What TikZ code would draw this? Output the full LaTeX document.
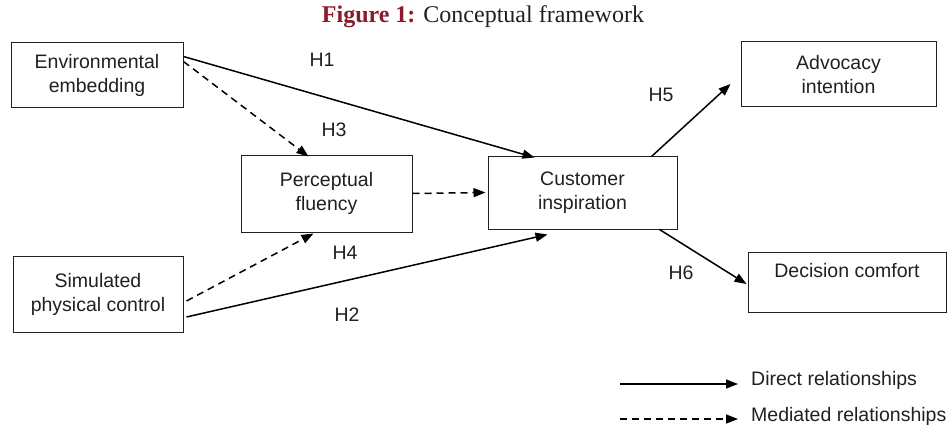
\documentclass[tikz,border=0pt]{standalone}
\usepackage{fontspec}
\setmainfont{Liberation Sans}
\newfontfamily\titlefont{Liberation Serif}
\usetikzlibrary{arrows.meta}
\definecolor{figred}{HTML}{8B1A2B}
\definecolor{ink}{HTML}{231F20}
\begin{document}
\begin{tikzpicture}[x=1pt,y=-1pt,
  box/.style={draw=ink,line width=1pt,align=center,inner sep=0pt,
    font=\fontsize{19.5}{24}\selectfont,text=ink},
  hlabel/.style={font=\fontsize{19.5}{22}\selectfont,text=ink,inner sep=0pt},
  direct/.style={draw=black,line width=1.5pt,-{Triangle[length=12pt,width=9pt]}},
  mediated/.style={direct,dash pattern=on 7pt off 5pt}]
\useasboundingbox (0,0) rectangle (952,433);

% title
\node[font=\titlefont\fontsize{24}{26}\selectfont,text=ink] (title) at (483,17)
  {\textbf{\textcolor{figred}{Figure 1:}} Conceptual framework};

% constructs
\node[box,minimum width=172pt,minimum height=65pt] (env)  at (97,75.5)  {Environmental\\embedding};
\node[box,minimum width=170pt,minimum height=76pt] (sim)  at (98,294.5) {Simulated\\physical control};
\node[box,minimum width=171pt,minimum height=77pt] (perc) at (326.5,193.5) {Perceptual\\fluency};
\node[box,minimum width=189pt,minimum height=73pt] (cust) at (582.5,192.5) {Customer\\inspiration};
\node[box,minimum width=195pt,minimum height=65pt] (adv)  at (838.5,74.5) {Advocacy\\intention};
\node[box,minimum width=198pt,minimum height=60pt] (dec)  at (847,282) {Decision comfort\\\mbox{}};

% hypothesised paths
\draw[direct]   ([yshift=-14pt]env.north east) -- ([xshift=-48pt,yshift=-2pt]cust.north);
\draw[mediated] ([yshift=-19pt]env.north east) -- ([xshift=-18pt,yshift=-2pt]perc.north);
\draw[mediated] (perc.east) -- ([xshift=-2pt]cust.west);
\draw[mediated] ([xshift=3pt,yshift=-45pt]sim.north east) -- ([xshift=-13pt,yshift=-1pt]perc.south);
\draw[direct]   ([xshift=3pt,yshift=-61pt]sim.north east) -- ([xshift=-35pt,yshift=-5pt]cust.south);
\draw[direct]   ([xshift=-26pt,yshift=-1pt]cust.north east) -- ([xshift=-10pt,yshift=-9.5pt]adv.west);
\draw[direct]   ([xshift=-18pt]cust.south east) -- ([xshift=-1pt,yshift=-2pt]dec.west);

% hypothesis labels
\node[hlabel] (h1) at (322,60)  {H1};
\node[hlabel] (h3) at (334,130) {H3};
\node[hlabel] (h4) at (345,253) {H4};
\node[hlabel] (h2) at (347,315) {H2};
\node[hlabel] (h5) at (661,95)  {H5};
\node[hlabel] (h6) at (681,273) {H6};

% legend
\node[hlabel,anchor=west] (ldir) at (751,380) {Direct relationships};
\node[hlabel,anchor=west] (lmed) at (751,416) {Mediated relationships};
\coordinate (ldirstart) at (620,384);
\coordinate (lmedstart) at (620,419);
\draw[direct]   (ldirstart) -- ([xshift=-13pt,yshift=-4pt]ldir.west);
\draw[mediated] (lmedstart) -- ([xshift=-13pt,yshift=-3pt]lmed.west);
\end{tikzpicture}
\end{document}
